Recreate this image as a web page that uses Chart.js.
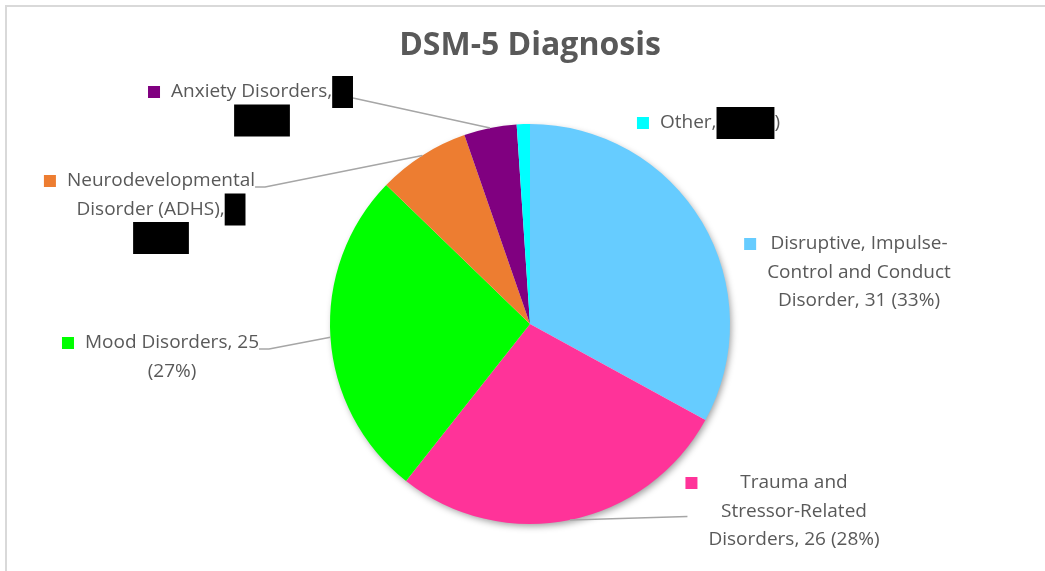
<!DOCTYPE html>
<html>
<head>
<meta charset="utf-8">
<script src="https://cdn.jsdelivr.net/npm/chart.js@4"></script>
<style>
html, body { margin: 0; padding: 0; background: #fff; }
#wrap { position: relative; width: 1045px; height: 571px; overflow: hidden; }
#frame { position: absolute; left: 5px; top: 5px; width: 1100px; height: 600px;
  border-left: 2px solid #d9d9d9; border-top: 2px solid #d9d9d9; }
canvas { position: absolute; left: 0; top: 0; }
</style>
</head>
<body>
<div id="wrap">
  <div id="frame"></div>
  <canvas id="pie" width="1045" height="571"></canvas>
</div>
<script>
const categories = ["Disruptive, Impulse-Control and Conduct Disorder", "Trauma and Stressor-Related Disorders",
  "Mood Disorders", "Neurodevelopmental Disorder (ADHS)", "Anxiety Disorders", "Other"];
const counts = [31, 26, 25, 7, 4, 1];
const sliceColors = ["#66CCFF", "#FF3399", "#00FF00", "#ED7D31", "#800080", "#00FFFF"];

const total = counts.reduce((a, b) => a + b, 0);
const pct = counts.map(v => Math.round(v / total * 100));

// label text, split the way the original wraps it. [[...]] = blacked out in the source
const labelLines = [
  ["Disruptive, Impulse-", "Control and Conduct", `Disorder, ${counts[0]} (${pct[0]}%)`],
  ["Trauma and", "Stressor-Related", `Disorders, ${counts[1]} (${pct[1]}%)`],
  [`Mood Disorders, ${counts[2]}`, `(${pct[2]}%)`],
  ["Neurodevelopmental", `Disorder (ADHS),[[ ${counts[3]}]]`, `[[(${pct[3]}%)]]`],
  [`Anxiety Disorders,[[ ${counts[4]}]]`, `[[(${pct[4]}%)]]`],
  [`Other,[[ ${counts[5]} (${pct[5]}%]])`]
];

// where each label block sits (centre x, first line centre y) and how its leader runs
const labelSpots = [
  { x: 859, y: 244 },
  { x: 794, y: 483, leader: { from: 'blockLeft', line: 1, dx: -21, dy: 5 } },
  { x: 172, y: 343, leader: { from: 'lineRight', line: 0, dx: 0, dy: 6, elbow: 10 } },
  { x: 161, y: 181, leader: { from: 'lineRight', line: 0, dx: 0, dy: 6, elbow: 10 } },
  { x: 262, y: 92, leader: { from: 'lineRight', line: 0, dx: 0, dy: 6 } },
  { x: 720, y: 123 }
];

const FONT = '"Comic Sans MS", "Open Sans", sans-serif';
const TEXT_COLOR = '#595959';
const LINE_H = 28.5;

function splitSegs(str) {
  const segs = [];
  const re = /\[\[(.*?)\]\]/g;
  let last = 0, m;
  while ((m = re.exec(str))) {
    if (m.index > last) segs.push({ t: str.slice(last, m.index), hide: false });
    segs.push({ t: m[1], hide: true });
    last = re.lastIndex;
  }
  if (last < str.length) segs.push({ t: str.slice(last), hide: false });
  return segs;
}

const sliceLabels = {
  id: 'sliceLabels',
  beforeDatasetsDraw(chart) {
    // soft shadow under the whole pie
    const arc = chart.getDatasetMeta(0).data[0];
    const ctx = chart.ctx;
    ctx.save();
    ctx.shadowColor = 'rgba(0,0,0,0.4)';
    ctx.shadowBlur = 7;
    ctx.shadowOffsetX = 2;
    ctx.shadowOffsetY = 3;
    ctx.fillStyle = '#fff';
    ctx.beginPath();
    ctx.arc(arc.x, arc.y, arc.outerRadius - 1, 0, Math.PI * 2);
    ctx.fill();
    ctx.restore();
  },
  afterDatasetsDraw(chart) {
    const ctx = chart.ctx;
    const arcs = chart.getDatasetMeta(0).data;
    ctx.save();
    ctx.font = '19px ' + FONT;
    ctx.textBaseline = 'middle';
    arcs.forEach((arc, i) => {
      const spot = labelSpots[i];
      const lines = labelLines[i].map(l => {
        const segs = splitSegs(l);
        const onlyHidden = segs.length === 1 && segs[0].hide;
        segs.forEach(s => { s.w = ctx.measureText(s.t).width + (s.hide ? (onlyHidden ? 18 : 5) : 0); });
        return { segs, w: segs.reduce((a, s) => a + s.w, 0) };
      });
      const blockW = Math.max(...lines.map(l => l.w));
      const blockLeft = spot.x - blockW / 2;

      // leader line to the middle of the slice edge
      if (spot.leader) {
        const ld = spot.leader;
        const ln = lines[ld.line];
        const ly = spot.y + ld.line * LINE_H + ld.dy;
        const sx = (ld.from === 'lineRight' ? spot.x + ln.w / 2 : blockLeft) + ld.dx;
        const mid = (arc.startAngle + arc.endAngle) / 2;
        const ex = arc.x + Math.cos(mid) * arc.outerRadius;
        const ey = arc.y + Math.sin(mid) * arc.outerRadius;
        ctx.strokeStyle = '#a6a6a6';
        ctx.lineWidth = 1.5;
        ctx.beginPath();
        ctx.moveTo(sx, ly);
        if (ld.elbow) ctx.lineTo(sx + ld.elbow, ly);
        ctx.lineTo(ex, ey);
        ctx.stroke();
      }

      // legend key square
      ctx.fillStyle = sliceColors[i];
      ctx.fillRect(blockLeft - 23, spot.y - 6, 12, 12);

      lines.forEach((ln, k) => {
        const y = spot.y + k * LINE_H;
        let x = spot.x - ln.w / 2;
        ln.segs.forEach(s => {
          if (s.hide) {
            ctx.fillStyle = '#000';
            ctx.fillRect(x, y - 16, s.w, 32);
          } else {
            ctx.fillStyle = TEXT_COLOR;
            ctx.textAlign = 'left';
            ctx.fillText(s.t, x, y);
          }
          x += s.w;
        });
      });
    });
    ctx.restore();
  }
};

const ctx = document.getElementById('pie').getContext('2d');
new Chart(ctx, {
  type: 'pie',
  data: {
    labels: categories,
    datasets: [{
      data: counts,
      backgroundColor: sliceColors,
      borderWidth: 0
    }]
  },
  options: {
    responsive: false,
    animation: false,
    events: [],
    layout: { padding: { top: 0, bottom: 47, left: 330, right: 315 } },
    plugins: {
      legend: { display: false },
      tooltip: { enabled: false },
      title: {
        display: true,
        text: 'DSM-5 Diagnosis',
        color: TEXT_COLOR,
        font: { family: FONT, size: 32, weight: 'bold', lineHeight: 1.2 },
        padding: { top: 27, bottom: 58.6 }
      }
    }
  },
  plugins: [sliceLabels]
});
</script>
</body>
</html>
